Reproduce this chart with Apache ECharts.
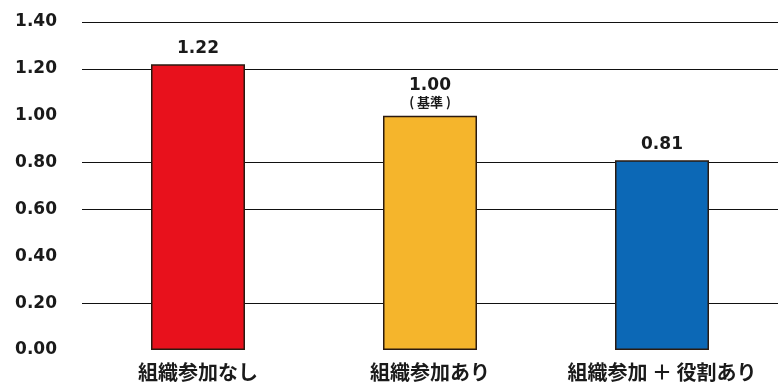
<!DOCTYPE html>
<html>
<head>
<meta charset="utf-8">
<script src="https://cdn.jsdelivr.net/npm/echarts@6/dist/echarts.min.js"></script>
<style>html,body{margin:0;padding:0;background:#fff;}#c{width:781px;height:384px;}</style>
</head>
<body>
<div id="c"></div>
<script>
const categories = ['組織参加なし', '組織参加あり', '組織参加 ＋ 役割あり'];
const values = [1.22, 1.00, 0.81];
const notes = ['', '( 基準 )', ''];
const barColors = ['#e8111c', '#f5b52c', '#0c68b6'];
const yTicks = [0, 0.2, 0.4, 0.6, 0.8, 1.0, 1.2, 1.4];
const visibleGrid = [false, true, false, true, true, false, true, true];

const chart = echarts.init(document.getElementById('c'));
chart.setOption({
  animation: false,
  backgroundColor: '#ffffff',
  grid: { left: 82, right: 3, top: 22, bottom: 34, containLabel: false },
  xAxis: {
    type: 'category',
    data: categories,
    axisLine: { show: false },
    axisTick: { show: false },
    axisLabel: {
      interval: 0,
      hideOverlap: false,
      margin: 12,
      color: '#1a1a1a',
      fontSize: 20,
      fontWeight: 'bold',
      fontFamily: '"Noto Sans CJK JP", sans-serif'
    }
  },
  yAxis: {
    type: 'value',
    min: yTicks[0],
    max: yTicks[yTicks.length - 1],
    interval: 0.2,
    axisLine: { show: false },
    axisTick: { show: false },
    axisLabel: {
      margin: 25,
      color: '#1a1a1a',
      fontSize: 17,
      fontWeight: 'bold',
      fontFamily: '"DejaVu Sans", sans-serif',
      formatter: v => v.toFixed(2)
    },
    splitLine: {
      show: true,
      lineStyle: {
        color: visibleGrid.map(s => s ? '#111' : 'rgba(0,0,0,0)'),
        width: 1
      }
    }
  },
  series: [{
    type: 'bar',
    barWidth: 94,
    data: values.map((v, i) => ({
      value: v,
      itemStyle: { color: barColors[i], borderColor: '#2a1a10', borderWidth: 1.5 }
    })),
    label: {
      show: true,
      position: 'top',
      distance: 7,
      formatter: p => {
        const n = notes[p.dataIndex];
        return '{v|' + p.value.toFixed(2) + '}' + (n ? '\n{n|' + n + '}' : '');
      },
      rich: {
        v: { fontSize: 17, fontWeight: 'bold', color: '#1a1a1a', fontFamily: '"DejaVu Sans", sans-serif', lineHeight: 18 },
        n: { fontSize: 13, fontWeight: 'bold', color: '#1a1a1a', fontFamily: '"Noto Sans CJK JP", sans-serif', lineHeight: 14 }
      }
    }
  }]
});
</script>
</body>
</html>
